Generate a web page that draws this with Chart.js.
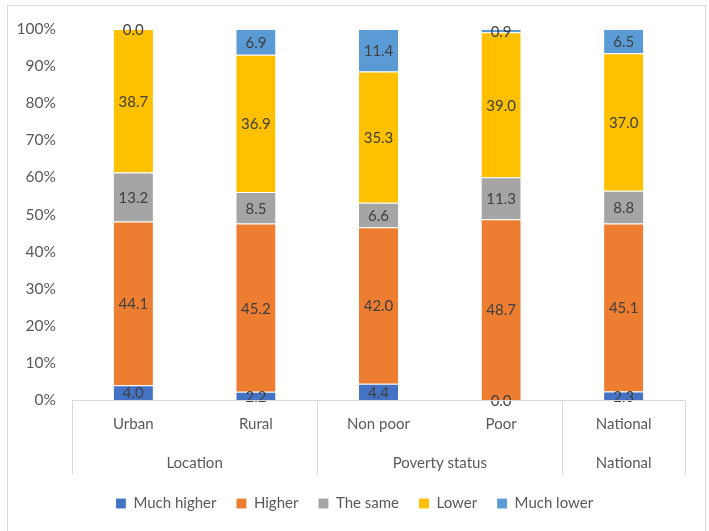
<!DOCTYPE html>
<html>
<head>
<meta charset="utf-8">
<script src="https://cdn.jsdelivr.net/npm/chart.js@4.4.1/dist/chart.umd.min.js"></script>
<style>
  html, body { margin: 0; padding: 0; background: #fff; }
  #wrap { width: 709px; height: 531px; position: relative; }
</style>
</head>
<body>
<div id="wrap"><canvas id="perception"></canvas></div>
<script>
// categories and their groups on the x axis
const categories = ["Urban", "Rural", "Non poor", "Poor", "National"];
const groupNames = ["Location", "Poverty status", "National"];
const groupSizes = [2, 2, 1];

// shares reported for each category (%)
const muchHigher = [4.0, 2.2, 4.4, 0.0, 2.3];
const higher     = [44.1, 45.2, 42.0, 48.7, 45.1];
const theSame    = [13.2, 8.5, 6.6, 11.3, 8.8];
const lower      = [38.7, 36.9, 35.3, 39.0, 37.0];
const muchLower  = [0.0, 6.9, 11.4, 0.9, 6.5];

const yTicks = [0, 10, 20, 30, 40, 50, 60, 70, 80, 90, 100];

const series = [
    { label: "Much higher", values: muchHigher, color: "#4472C4" },
    { label: "Higher",      values: higher,     color: "#ED7D31" },
    { label: "The same",    values: theSame,    color: "#A5A5A5" },
    { label: "Lower",       values: lower,      color: "#FFC000" },
    { label: "Much lower",  values: muchLower,  color: "#5B9BD5" }
];

// 100% stacking: each column is scaled to its own total
const totals = categories.map((_, i) =>
    series.reduce((s, ser) => s + ser.values[i], 0));

const FONT = "Lato, 'Open Sans', sans-serif";

// value labels centred in each segment
const segmentLabels = {
    id: "segmentLabels",
    afterDatasetsDraw(chart) {
        const ctx = chart.ctx;
        ctx.save();
        ctx.font = "15px " + FONT;
        ctx.fillStyle = "#404040";
        ctx.textAlign = "center";
        ctx.textBaseline = "middle";
        chart.data.datasets.forEach((ds, i) => {
            chart.getDatasetMeta(i).data.forEach((bar, j) => {
                const p = bar.getCenterPoint();
                ctx.fillText(ds.raw[j].toFixed(1), p.x, p.y + 1);
            });
        });
        ctx.restore();
    }
};

// two-level category axis plus the outer frame
const groupedAxis = {
    id: "groupedAxis",
    beforeDraw(chart) {
        const ctx = chart.ctx;
        ctx.save();
        ctx.strokeStyle = "#d9d9d9";
        ctx.lineWidth = 1;
        ctx.strokeRect(7.5, 5.5, 698, 560);
        ctx.restore();
    },
    afterDraw(chart) {
        const ctx = chart.ctx;
        const area = chart.chartArea;
        const x = chart.scales.x;
        const step = (area.right - area.left) / categories.length;
        const base = Math.round(area.bottom) + 0.5;
        ctx.save();
        ctx.strokeStyle = "#d9d9d9";
        ctx.lineWidth = 1;
        ctx.beginPath();
        ctx.moveTo(area.left, base);
        ctx.lineTo(area.right, base);
        let idx = 0;
        const edges = [0];
        groupSizes.forEach(n => { idx += n; edges.push(idx); });
        edges.forEach(e => {
            const ex = Math.round(area.left + e * step) + 0.5;
            ctx.moveTo(ex, base);
            ctx.lineTo(ex, base + 74);
        });
        ctx.stroke();

        ctx.font = "15px " + FONT;
        ctx.fillStyle = "#595959";
        ctx.textAlign = "center";
        ctx.textBaseline = "middle";
        categories.forEach((c, i) => {
            ctx.fillText(c, x.getPixelForValue(i), base + 24);
        });
        groupNames.forEach((g, k) => {
            const mid = area.left + (edges[k] + edges[k + 1]) / 2 * step;
            ctx.fillText(g, mid, base + 63);
        });
        ctx.restore();
    }
};

new Chart(document.getElementById("perception"), {
    type: "bar",
    data: {
        labels: categories,
        datasets: series.map(s => ({
            label: s.label,
            raw: s.values,
            data: s.values.map((v, i) => v / totals[i] * 100),
            backgroundColor: s.color,
            borderColor: "rgba(255,255,255,0.55)",
            borderWidth: { top: 1 },
            borderSkipped: false,
            barPercentage: 1,
            categoryPercentage: 0.32
        }))
    },
    options: {
        responsive: true,
        maintainAspectRatio: false,
        animation: false,
        layout: { padding: { top: 29, left: 0, right: 0, bottom: 10 } },
        scales: {
            x: {
                stacked: true,
                grid: { display: false },
                border: { display: false },
                ticks: { display: false },
                afterFit: scale => { scale.height = 76; }
            },
            y: {
                stacked: true,
                min: 0,
                max: 100,
                grid: { display: false },
                border: { display: false },
                afterFit: scale => { scale.width = 72; },
                afterBuildTicks: scale => {
                    scale.ticks = yTicks.map(v => ({ value: v }));
                },
                ticks: {
                    padding: 8,
                    color: "#595959",
                    font: { family: FONT, size: 15.5 },
                    callback: v => v + "%"
                }
            },
            // empty strip on the right so the plot ends before the frame
            gutter: {
                type: "linear",
                position: "right",
                grid: { display: false },
                border: { display: false },
                ticks: { display: false },
                afterFit: scale => { scale.width = 24; }
            }
        },
        plugins: {
            legend: {
                position: "bottom",
                labels: {
                    boxWidth: 10,
                    boxHeight: 10,
                    padding: 20,
                    color: "#595959",
                    font: { family: FONT, size: 15 }
                }
            },
            tooltip: { enabled: true }
        }
    },
    plugins: [groupedAxis, segmentLabels]
});
</script>
</body>
</html>
